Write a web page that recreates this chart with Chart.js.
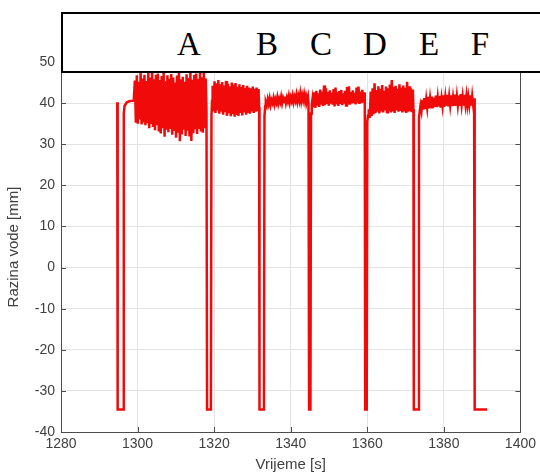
<!DOCTYPE html>
<html>
<head>
<meta charset="utf-8">
<script src="https://cdn.jsdelivr.net/npm/chart.js@4.4.1/dist/chart.umd.min.js"></script>
<style>
  html, body { margin: 0; padding: 0; background: #fff; overflow: hidden; }
  #wrap { position: relative; width: 540px; height: 475px; }
  #labelBox {
    position: absolute; left: 61px; top: 12px; width: 500px; height: 57px;
    border: 2px solid #000; background: #fff; box-sizing: content-box;
  }
  .seg {
    position: absolute; top: 44px; transform: translate(-50%, -50%);
    font-family: "Liberation Serif", "Times New Roman", serif; font-size: 33px; color: #000;
    line-height: 1;
  }
</style>
</head>
<body>
<div id="wrap">
  <canvas id="c" width="540" height="475"></canvas>
  <div id="labelBox"></div>
  <span class="seg" style="left:189px">A</span>
  <span class="seg" style="left:267px">B</span>
  <span class="seg" style="left:321px">C</span>
  <span class="seg" style="left:375px">D</span>
  <span class="seg" style="left:429px">E</span>
  <span class="seg" style="left:480px">F</span>
</div>
<script>
// razina vode očitana sa slike, uzorci svakih 0.25 s unutar blokova A-F
const sampleStep = 0.25;
const blockStarts = [1299.3, 1319.6, 1333.5, 1345.7, 1360.4, 1373.9];

const levelA = [
  45.5, 35.2, 46.8, 35.0, 45.2, 36.0, 47.6, 34.8, 46.0, 35.3,
  46.9, 34.6, 45.4, 35.1, 47.3, 33.9, 46.2, 34.9, 47.8, 34.2,
  45.8, 33.4, 46.9, 34.6, 47.2, 33.1, 45.6, 32.6, 46.6, 33.9,
  47.4, 31.8, 45.3, 33.5, 46.8, 32.9, 45.9, 33.7, 47.1, 32.3,
  46.2, 33.2, 45.0, 31.6, 46.7, 32.8, 47.5, 30.7, 45.8, 32.4,
  46.4, 33.5, 45.2, 32.0, 47.0, 33.3, 46.1, 31.9, 47.6, 30.8,
  45.7, 32.7, 46.9, 33.6, 47.2, 32.5, 45.9, 34.0, 47.9, 33.1,
  46.3, 32.8, 47.4, 33.9, 46.0
];
const levelB = [
  44.2, 38.0, 45.3, 37.6, 44.8, 38.2, 45.6, 37.4, 44.6, 37.9,
  45.1, 37.2, 44.3, 37.8, 45.4, 36.9, 44.7, 37.5, 44.1, 36.8,
  45.0, 37.3, 44.5, 36.7, 44.9, 37.1, 44.0, 36.9, 44.6, 37.6,
  43.9, 37.0, 44.4, 37.7, 43.7, 37.2, 44.2, 37.9, 43.8, 37.4,
  43.6, 38.0, 44.0, 37.6, 43.5, 37.9, 43.8, 38.1, 43.4
];
const levelC = [
  40.2, 39.4, 40.9, 39.8, 41.1, 39.6, 40.7, 40.0, 41.2, 39.7,
  40.9, 40.1, 41.4, 39.9, 41.0, 40.2, 41.5, 40.0, 41.2, 40.3,
  41.6, 40.1, 41.3, 40.4, 41.7, 40.2, 41.4, 40.5, 41.8, 40.3,
  41.5, 40.6, 42.0, 40.4, 41.7, 40.6, 42.3, 40.5, 41.9, 40.7,
  42.1, 40.5, 41.8, 40.6, 41.6
];
const levelD = [
  41.0, 39.0, 42.6, 38.8, 43.0, 39.4, 42.4, 39.1, 43.3, 39.6,
  42.8, 39.3, 44.3, 39.5, 43.6, 39.8, 42.7, 39.4, 43.1, 39.9,
  42.5, 39.6, 43.4, 39.2, 43.8, 39.7, 42.6, 39.3, 42.9, 39.8,
  43.2, 39.5, 42.4, 39.9, 43.0, 39.4, 43.9, 39.7, 44.1, 39.6,
  42.7, 39.9, 43.1, 40.0, 42.5, 39.7, 43.8, 40.1, 44.0, 39.8,
  42.8, 40.0, 43.2, 40.1, 42.6
];
const levelE = [
  38.5, 36.4, 42.8, 36.9, 43.6, 37.3, 44.8, 37.6, 43.2, 37.9,
  44.1, 37.5, 43.5, 38.0, 44.4, 37.7, 43.0, 38.2, 44.0, 37.8,
  43.6, 38.1, 44.5, 37.7, 45.6, 38.0, 43.9, 37.6, 44.2, 38.2,
  43.5, 37.9, 44.6, 38.1, 43.8, 37.7, 44.3, 38.0, 43.7, 37.6,
  45.2, 37.9, 44.1, 38.0, 43.6, 37.8, 43.3
];
const levelF = [
  39.4, 38.1, 40.8, 38.4, 41.2, 38.6, 40.9, 38.9, 41.5, 38.7,
  41.1, 39.0, 41.6, 38.8, 41.3, 39.1, 41.8, 39.0, 41.4, 39.2,
  41.7, 38.9, 41.2, 39.3, 41.9, 39.1, 41.5, 39.4, 42.0, 39.2,
  41.6, 39.5, 41.9, 39.3, 41.4, 39.6, 42.1, 39.4, 41.7, 39.5,
  41.8, 39.3, 42.2, 39.6, 41.6, 39.4, 42.0, 39.7, 41.8, 39.5,
  41.5, 39.6, 41.9, 39.4, 41.7, 39.6, 41.2
];

// pražnjenja između blokova (vrijeme [s], razina [mm])
const gapTimes = [
  [1294.7, 1294.8, 1296.2, 1296.4, 1296.6, 1297.2, 1298.0, 1299.0],
  [1318.0, 1318.15, 1319.15, 1319.3, 1319.45],
  [1331.75, 1331.85, 1333.0, 1333.15, 1333.35],
  [1344.65, 1344.8, 1345.15, 1345.3, 1345.5],
  [1359.35, 1359.45, 1359.85, 1360.0, 1360.2],
  [1372.05, 1372.15, 1373.35, 1373.5, 1373.7],
  [1388.0, 1388.1, 1391.3]
];
const gapLevels = [
  [40.2, -34.5, -34.5, 37.5, 39.3, 40.2, 40.5, 40.6],
  [38.0, -34.5, -34.5, 37.0, 40.5],
  [39.0, -34.5, -34.5, 37.0, 39.3],
  [40.0, -34.5, -34.5, 37.5, 39.5],
  [39.8, -34.5, -34.5, 35.5, 37.0],
  [38.5, -34.5, -34.5, 36.5, 38.0],
  [39.5, -34.5, -34.5]
];

const xTicks = [1280, 1300, 1320, 1340, 1360, 1380, 1400];
const yTicks = [-40, -30, -20, -10, 0, 10, 20, 30, 40, 50];

const blocks = [levelA, levelB, levelC, levelD, levelE, levelF];
const points = [];
gapTimes.forEach((ts, g) => {
  ts.forEach((t, i) => points.push({ x: t, y: gapLevels[g][i] }));
  const blk = blocks[g];
  if (blk) blk.forEach((v, i) => points.push({ x: +(blockStarts[g] + i * sampleStep).toFixed(2), y: v }));
});

// okvir osi + unutarnje crtice (kao u MATLAB-u)
const frameTicks = {
  id: "frameTicks",
  afterDraw(chart) {
    const { ctx, chartArea: a, scales: { x, y } } = chart;
    ctx.save();
    ctx.strokeStyle = "#4d4d4d";
    ctx.lineWidth = 1;
    ctx.beginPath();
    const r = Math.round(a.right) + 0.5;
    ctx.moveTo(r, a.top); ctx.lineTo(r, a.bottom);
    xTicks.forEach(v => {
      const px = Math.round(x.getPixelForValue(v)) + 0.5;
      ctx.moveTo(px, a.bottom); ctx.lineTo(px, a.bottom - 5);
    });
    yTicks.forEach(v => {
      const py = Math.round(y.getPixelForValue(v)) + 0.5;
      ctx.moveTo(a.left, py); ctx.lineTo(a.left + 5, py);
      ctx.moveTo(a.right, py); ctx.lineTo(a.right - 5, py);
    });
    ctx.stroke();
    ctx.restore();
  }
};

Chart.defaults.font.family = '"Liberation Sans", Arial, sans-serif';
Chart.defaults.color = "#404040";

new Chart(document.getElementById("c").getContext("2d"), {
  type: "line",
  data: {
    datasets: [{
      data: points,
      borderColor: "rgb(240,10,10)",
      borderWidth: 2.5,
      pointRadius: 0,
      tension: 0,
      fill: false,
    }],
  },
  options: {
    responsive: false,
    animation: false,
    devicePixelRatio: 1,
    layout: { padding: { top: 62, right: 14, left: 0, bottom: 0 } },
    plugins: { legend: { display: false }, tooltip: { enabled: false } },
    scales: {
      x: {
        type: "linear",
        min: 1280, max: 1400,
        afterFit: s => { s.height = 43; },
        afterBuildTicks: s => { s.ticks = xTicks.map(v => ({ value: v })); },
        ticks: { font: { size: 14 }, padding: 4, maxRotation: 0, callback: v => String(v) },
        grid: { color: "#e3e3e3", drawTicks: false },
        border: { color: "#4d4d4d" },
        title: { display: true, text: "Vrijeme [s]", font: { size: 15 }, padding: { top: 0, bottom: 1 } },
      },
      y: {
        min: -40, max: 50,
        afterFit: s => { s.width = 61; },
        afterBuildTicks: s => { s.ticks = yTicks.map(v => ({ value: v })); },
        ticks: { font: { size: 14 }, padding: 6, callback: v => String(v) },
        grid: { color: "#e3e3e3", drawTicks: false },
        border: { color: "#4d4d4d" },
        title: { display: true, text: "Razina vode [mm]", font: { size: 15 }, padding: { top: 5, bottom: 0 } },
      },
    },
  },
  plugins: [frameTicks],
});
</script>
</body>
</html>
